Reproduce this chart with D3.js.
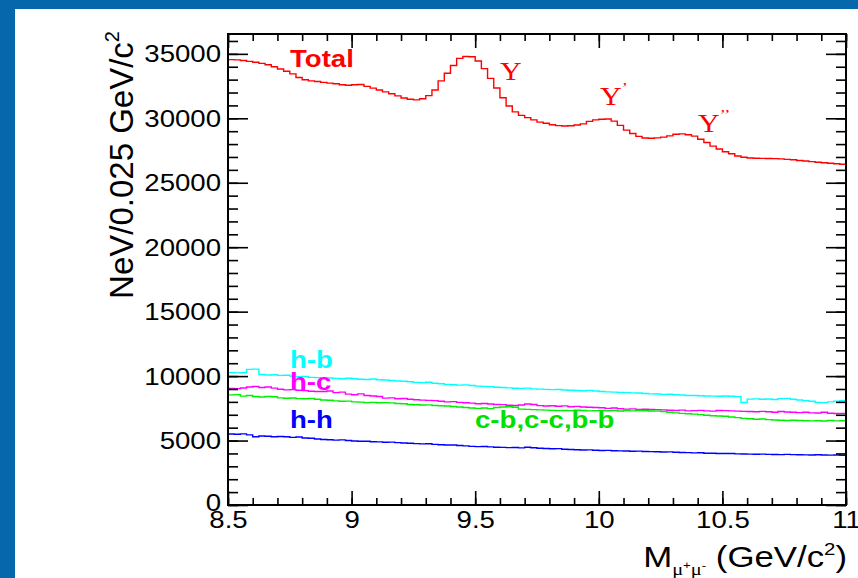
<!DOCTYPE html>
<html><head><meta charset="utf-8">
<script src="https://cdn.jsdelivr.net/npm/d3@7"></script>
<style>body{margin:0;background:#fff;overflow:hidden}</style>
</head><body>
<svg id="c" width="858" height="578"></svg>
<script>
// ---- data ----
const massRange = [8.5, 11];
const binWidth = 0.025;
const yMax = 36540;
const xTickValues = [8.5, 9, 9.5, 10, 10.5, 11];
const xTickLabels = ["8.5", "9", "9.5", "10", "10.5", "11"];
const yTickValues = [0, 5000, 10000, 15000, 20000, 25000, 30000, 35000];
const yTickLabels = ["0", "5000", "10000", "15000", "20000", "25000", "30000", "35000"];

const totalCounts = [
34550,34530,34480,34420,34350,34260,34150,34000,33820,33650,
33450,33170,32990,32900,32850,32790,32730,32680,32600,32560,
32600,32620,32480,32340,32200,32050,31900,31740,31580,31480,
31430,31520,31760,32200,32900,33500,34100,34650,34800,34780,
34450,33850,33100,32350,31600,30950,30500,30230,30050,29880,
29700,29620,29500,29430,29400,29420,29480,29570,29760,29880,
29930,29940,29780,29450,29080,28820,28600,28470,28450,28480,
28540,28640,28760,28790,28720,28620,28380,28120,27840,27620,
27400,27250,27080,26980,26920,26900,26890,26880,26870,26850,
26810,26780,26730,26690,26640,26590,26550,26510,26470,26430];

const hbCounts = [
10270,10250,10260,10520,10540,10120,10090,10110,10060,10070,
10000,9950,9970,9900,9880,9830,9850,9820,9790,9830,
9790,9760,9740,9780,9720,9700,9660,9620,9600,9560,
9510,9490,9520,9440,9410,9360,9330,9300,9320,9270,
9220,9200,9180,9140,9120,9090,9060,9050,9070,9010,
8990,8970,8950,8960,8920,8900,8880,8860,8890,8840,
8800,8780,8760,8740,8720,8700,8690,8650,8620,8610,
8580,8590,8550,8530,8500,8490,8470,8460,8450,8440,
8460,8440,8410,7950,8210,8230,8200,8220,8190,8250,
8270,8200,8150,8100,8050,7950,7940,8000,8060,8090];

const hcCounts = [
9050,9030,9080,9160,9190,9120,9150,9070,8980,8930,
8950,8900,8870,8830,8810,8800,8840,8720,8760,8600,
8550,8620,8500,8460,8420,8290,8310,8240,8260,8200,
8160,8140,8120,8100,8050,8000,8020,7960,7930,7900,
7860,7880,7830,7800,7790,7740,7720,7760,7840,7800,
7710,7680,7700,7660,7690,7620,7650,7600,7580,7560,
7540,7500,7520,7470,7440,7460,7420,7430,7410,7400,
7380,7350,7330,7360,7300,7320,7340,7300,7280,7330,
7320,7300,7280,7260,7250,7240,7260,7230,7200,7250,
7220,7190,7170,7200,7150,7140,7190,7120,7100,7110];

const heavyCounts = [
8540,8560,8450,8500,8420,8380,8420,8400,8310,8280,
8300,8250,8240,8260,8200,8150,8130,8080,8050,8060,
8000,7980,7940,7960,7930,7940,7920,7880,7850,7800,
7780,7760,7770,7720,7700,7680,7640,7600,7560,7520,
7500,7530,7480,7560,7600,7620,7580,7440,7420,7400,
7380,7360,7340,7320,7330,7320,7350,7330,7300,7320,
7340,7310,7330,7290,7320,7300,7330,7310,7290,7280,
7250,7200,7150,7110,7080,7050,7010,6960,6920,6910,
6880,6830,6780,6720,6690,6650,6670,6620,6600,6580,
6560,6580,6550,6540,6530,6540,6520,6550,6530,6540];

const hhCounts = [
5510,5490,5520,5440,5300,5350,5330,5290,5310,5300,
5250,5270,5200,5180,5120,5080,5060,5030,5050,5000,
4960,4940,4950,4910,4900,4870,4880,4840,4810,4790,
4760,4740,4750,4700,4680,4650,4660,4620,4590,4550,
4530,4540,4510,4480,4470,4450,4460,4430,4480,4440,
4400,4380,4360,4370,4330,4300,4290,4270,4280,4250,
4230,4240,4210,4200,4190,4170,4180,4150,4140,4130,
4110,4120,4090,4070,4060,4040,4050,4020,4010,4000,
3990,4000,3970,3960,3950,3940,3950,3930,3920,3910,
3930,3910,3900,3890,3880,3900,3880,3870,3880,3860];

const seriesNames = ["Total", "h-b", "h-c", "c-b,c-c,b-b", "h-h"];
const seriesColors = ["#ff0000", "#00ffff", "#ff00ff", "#00ee00", "#0000ff"];
const seriesData = [totalCounts, hbCounts, hcCounts, heavyCounts, hhCounts];

// ---- layout ----
const W = 858, H = 578;
const L = 228, R = 846, T = 34, B = 505;
const SX = 1.2; // horizontal text stretch
const sans = "'Liberation Sans', Arial, Helvetica, sans-serif";
const serif = "'Liberation Serif', 'Times New Roman', serif";

const svg = d3.select("#c");
svg.append("rect").attr("width", W).attr("height", H).attr("fill", "#fff");
// slide border (top & left)
svg.append("rect").attr("x", 0).attr("y", 0).attr("width", W).attr("height", 9).attr("fill", "#0767ac");
svg.append("rect").attr("x", 0).attr("y", 0).attr("width", 15).attr("height", H).attr("fill", "#0767ac");

const x = d3.scaleLinear().domain(massRange).range([L, R]);
const y = d3.scaleLinear().domain([0, yMax]).range([B, T]);

svg.append("clipPath").attr("id", "clip").append("rect")
  .attr("x", L).attr("y", T).attr("width", R - L).attr("height", B - T);

// ---- histograms ----
const step = d3.line().x(d => x(d[0])).y(d => y(d[1])).curve(d3.curveStepAfter);
const gH = svg.append("g").attr("clip-path", "url(#clip)");
seriesData.forEach((arr, k) => {
  const pts = arr.map((v, i) => [massRange[0] + i * binWidth, v]);
  pts.push([massRange[0] + arr.length * binWidth, arr[arr.length - 1]]);
  gH.append("path").attr("d", step(pts)).attr("fill", "none")
    .attr("stroke", seriesColors[k]).attr("stroke-width", 1.4);
});

// ---- axes ----
const minorX = d3.range(0, 26).map(i => 8.5 + i * 0.1);
const minorY = d3.range(0, 37).map(i => i * 1000);

function styleAxis(g) {
  g.select(".domain").remove();
  g.selectAll(".tick line").attr("stroke", "#000").attr("stroke-width", 1.6);
}

// bottom
const gxMinor = svg.append("g").attr("transform", `translate(0,${B})`)
  .call(d3.axisBottom(x).tickValues(minorX).tickSize(-7).tickFormat(""));
styleAxis(gxMinor);
const gx = svg.append("g").attr("transform", `translate(0,${B})`)
  .call(d3.axisBottom(x).tickValues(xTickValues).tickSize(-14).tickPadding(0)
    .tickFormat((d, i) => xTickLabels[i]));
styleAxis(gx);
gx.selectAll(".tick text").attr("y", 0).attr("dy", "0").attr("transform", `translate(0,23) scale(${SX},1)`)
  .attr("font-family", sans).attr("font-size", 23).attr("fill", "#000");
// top
const gtMinor = svg.append("g").attr("transform", `translate(0,${T})`)
  .call(d3.axisTop(x).tickValues(minorX).tickSize(-7).tickFormat(""));
styleAxis(gtMinor);
const gt = svg.append("g").attr("transform", `translate(0,${T})`)
  .call(d3.axisTop(x).tickValues(xTickValues).tickSize(-14).tickFormat(""));
styleAxis(gt);
// left
const gyMinor = svg.append("g").attr("transform", `translate(${L},0)`)
  .call(d3.axisLeft(y).tickValues(minorY).tickSize(-10).tickFormat(""));
styleAxis(gyMinor);
const gy = svg.append("g").attr("transform", `translate(${L},0)`)
  .call(d3.axisLeft(y).tickValues(yTickValues).tickSize(-20).tickFormat((d, i) => yTickLabels[i]));
styleAxis(gy);
gy.selectAll(".tick text").attr("x", 0).attr("dy", "0")
  .attr("transform", d => `translate(-7,${d === 0 ? 5 : 8}) scale(${SX},1)`)
  .attr("text-anchor", "end")
  .attr("font-family", sans).attr("font-size", 23).attr("fill", "#000");
// right
const grMinor = svg.append("g").attr("transform", `translate(${R},0)`)
  .call(d3.axisRight(y).tickValues(minorY).tickSize(-10).tickFormat(""));
styleAxis(grMinor);
const gr = svg.append("g").attr("transform", `translate(${R},0)`)
  .call(d3.axisRight(y).tickValues(yTickValues).tickSize(-20).tickFormat(""));
styleAxis(gr);

// frame
svg.append("rect").attr("x", L).attr("y", T).attr("width", R - L).attr("height", B - T)
  .attr("fill", "none").attr("stroke", "#000").attr("stroke-width", 2);

// ---- axis titles ----
const yt = svg.append("text").attr("transform", `translate(133,31) rotate(-90)`)
  .attr("text-anchor", "end").attr("font-family", sans).attr("font-size", 33).attr("fill", "#000");
yt.append("tspan").text("NeV/0.025 GeV/c");
yt.append("tspan").attr("dy", -14).attr("font-size", 20).text("2");

const xt = svg.append("text").attr("transform", `translate(847,567) scale(${SX},1)`)
  .attr("text-anchor", "end").attr("font-family", sans).attr("font-size", 29).attr("fill", "#000");
xt.append("tspan").text("M");
xt.append("tspan").attr("dy", 8).attr("font-size", 17).attr("font-family", serif).text("μ");
xt.append("tspan").attr("dy", -6).attr("font-size", 11).text("+");
xt.append("tspan").attr("dy", 6).attr("font-size", 17).attr("font-family", serif).text("μ");
xt.append("tspan").attr("dy", -6).attr("font-size", 11).text("-");
xt.append("tspan").attr("dy", -2).attr("font-size", 29).text(" (GeV/c");
xt.append("tspan").attr("dy", -12).attr("font-size", 17).text("2");
xt.append("tspan").attr("dy", 12).attr("font-size", 29).text(")");

// ---- labels ----
function label(txt, px, py, color, size, family, weight) {
  return svg.append("text").attr("transform", `translate(${px},${py}) scale(${SX},1)`)
    .attr("font-family", family).attr("font-size", size).attr("font-weight", weight)
    .attr("fill", color).text(txt);
}
label(seriesNames[0], 290, 67, seriesColors[0], 23, sans, "bold");
label(seriesNames[1], 290, 368, seriesColors[1], 23, sans, "bold");
label(seriesNames[2], 290, 390, seriesColors[2], 23, sans, "bold");
label(seriesNames[4], 290, 428, seriesColors[4], 23, sans, "bold");
label(seriesNames[3], 475, 428, "#00e000", 23, sans, "bold");

const peakNames = ["Υ", "Υ'", "Υ''"];
const peakPos = [[500, 80], [600, 105], [698, 132]];
peakNames.forEach((n, i) => {
  const t = svg.append("text").attr("transform", `translate(${peakPos[i][0]},${peakPos[i][1]}) scale(${SX},1)`)
    .attr("font-family", serif).attr("font-size", 25).attr("fill", "#ff0000");
  t.append("tspan").text("Υ");
  const primes = n.slice(1);
  if (primes) t.append("tspan").attr("dy", -12).attr("font-size", 15).text(primes.replace(/'/g, "’"));
});
</script>
</body></html>
